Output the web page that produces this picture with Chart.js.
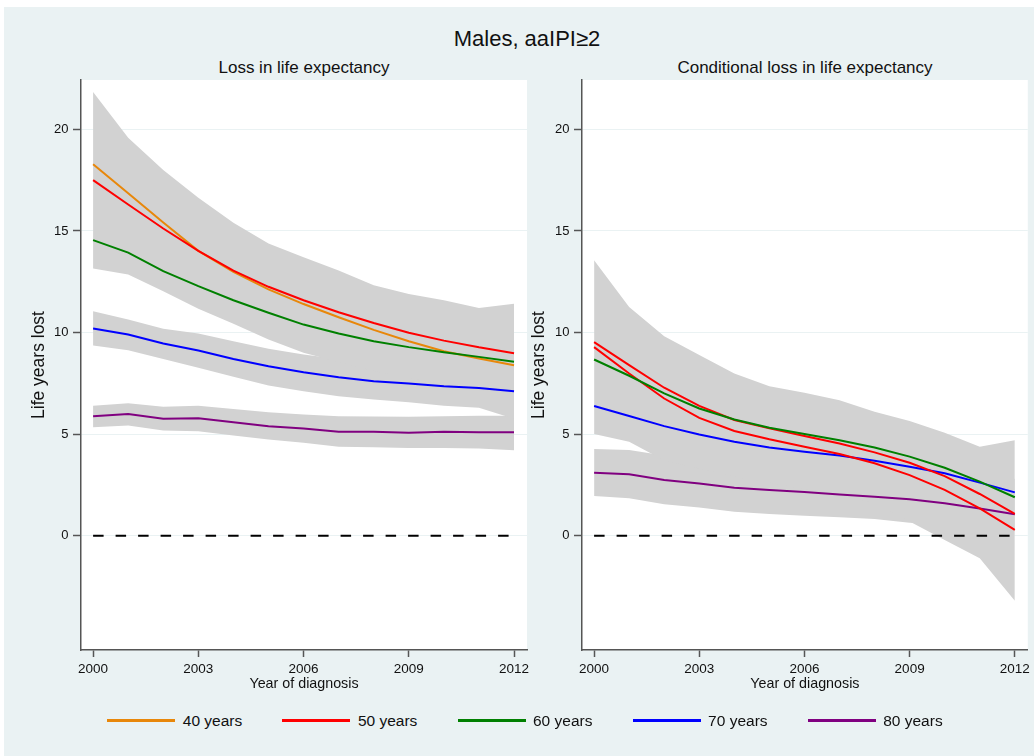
<!DOCTYPE html>
<html>
<head>
<meta charset="utf-8">
<script src="https://cdn.jsdelivr.net/npm/chart.js@4.4.0/dist/chart.umd.min.js"></script>
<style>
html,body{margin:0;padding:0;background:#fff;width:1034px;height:756px;overflow:hidden;font-family:'Liberation Sans',Arial,sans-serif;}
#bg{position:absolute;left:4px;top:7px;width:1030px;height:749px;background:rgb(234,242,243);}
canvas{position:absolute;}
.t{position:absolute;white-space:nowrap;color:#111;line-height:1;transform:translate(-50%,-50%);}
.lt{position:absolute;white-space:nowrap;color:#111;line-height:1;transform:translateY(-50%);}
.ll{position:absolute;height:2.5px;}
</style>
</head>
<body>
<div id="bg"></div>
<div class="t" style="left:527px;top:38.5px;font-size:22px;">Males, aaIPI≥2</div>
<div class="t" style="left:304px;top:67px;font-size:17px;">Loss in life expectancy</div>
<div class="t" style="left:805px;top:67px;font-size:17px;">Conditional loss in life expectancy</div>
<canvas id="c1" width="540" height="650" style="left:0px;top:60px;"></canvas>
<canvas id="c2" width="534" height="650" style="left:500px;top:60px;"></canvas>
<div id="legend"></div>
<script>
// ---------- data ----------
const years = [2000,2001,2002,2003,2004,2005,2006,2007,2008,2009,2010,2011,2012];
const xTicks = [2000,2003,2006,2009,2012];
const yTicks = [0,5,10,15,20];
const seriesLabels = ['40 years','50 years','60 years','70 years','80 years'];
const refValue = 0;

// Left panel: loss in life expectancy
const loss40 = [18.28,16.85,15.42,14.02,12.98,12.12,11.40,10.75,10.13,9.57,9.08,8.72,8.39];
const loss50 = [17.50,16.30,15.12,14.02,13.05,12.25,11.59,11.00,10.47,9.99,9.60,9.27,8.98];
const loss60 = [14.55,13.93,13.02,12.28,11.59,10.97,10.39,9.95,9.57,9.28,9.03,8.80,8.56];
const loss70 = [10.20,9.90,9.46,9.11,8.70,8.34,8.04,7.80,7.60,7.49,7.35,7.27,7.11];
const loss80 = [5.88,5.99,5.76,5.78,5.58,5.38,5.27,5.12,5.11,5.07,5.11,5.09,5.09];
const lossHi40_60 = [21.84,19.59,18.00,16.63,15.40,14.38,13.71,13.05,12.33,11.90,11.59,11.21,11.41];
const lossLo40_60 = [13.15,12.86,12.03,11.17,10.43,9.66,9.00,8.55,8.10,7.75,7.45,7.20,7.00];
const lossHi70 = [11.05,10.64,10.18,9.95,9.57,9.20,8.92,8.70,8.50,8.35,8.20,8.10,8.00];
const lossLo70 = [9.36,9.13,8.70,8.26,7.82,7.39,7.11,6.86,6.70,6.57,6.40,6.29,5.75];
const lossHi80 = [6.40,6.52,6.34,6.40,6.24,6.07,5.96,5.88,5.86,5.85,5.88,5.90,5.90];
const lossLo80 = [5.34,5.42,5.17,5.14,4.93,4.73,4.57,4.37,4.35,4.32,4.32,4.29,4.20];

// Right panel: conditional loss in life expectancy
const cond40 = [9.28,7.98,6.75,5.80,5.15,4.74,4.38,4.02,3.56,2.98,2.25,1.34,0.28];
const cond50 = [9.53,8.39,7.28,6.39,5.69,5.28,4.90,4.54,4.10,3.59,2.93,2.05,1.07];
const cond60 = [8.67,7.87,7.00,6.26,5.72,5.31,5.00,4.70,4.34,3.89,3.34,2.66,1.89];
const cond70 = [6.38,5.89,5.39,4.98,4.62,4.34,4.13,3.95,3.69,3.39,3.07,2.61,2.13];
const cond80 = [3.10,3.02,2.74,2.57,2.36,2.25,2.15,2.03,1.92,1.79,1.59,1.34,1.05];
const condHi40_70 = [13.56,11.26,9.82,8.89,7.98,7.36,7.03,6.67,6.10,5.64,5.07,4.38,4.70];
const condLo40_70 = [5.00,4.62,3.70,3.30,2.90,2.60,2.30,2.00,1.60,0.70,-0.21,-1.11,-3.21];
const condHi80 = [4.26,4.21,3.95,3.80,3.60,3.50,3.40,3.30,3.20,3.10,3.00,2.90,2.80];
const condLo80 = [1.95,1.84,1.54,1.38,1.18,1.07,0.98,0.90,0.82,0.64,0.55,0.45,0.35];

// ---------- styles ----------
const ORANGE='rgb(232,135,10)', RED='rgb(255,0,0)', GREEN='rgb(0,128,0)', BLUE='rgb(0,0,255)', PURPLE='rgb(128,0,128)';
const legendColors = [ORANGE,RED,GREEN,BLUE,PURPLE];
const leftColors = [ORANGE,RED,GREEN,BLUE,PURPLE];
const rightColors = [RED,RED,GREEN,BLUE,PURPLE];
const lineOrder = [3,2,1,4,5];
const BAND = 'rgb(210,210,210)';
const TXT = '#111', AX = '#555';
Chart.defaults.font.family = "'Liberation Sans', Arial, sans-serif";

const pts = arr => years.map((yr,i)=>({x:yr,y:arr[i]}));

const plotBg = {id:'plotBg', beforeDraw(c){
  const {ctx, chartArea:a} = c; ctx.save(); ctx.fillStyle='#fff';
  ctx.fillRect(a.left,a.top,a.right-a.left,a.bottom-a.top); ctx.restore();
}};

function buildPanel(id, lines, colors, bands, rightPad, yWidth){
  const ds = [];
  lines.forEach((arr,i)=>ds.push({label:seriesLabels[i], data:pts(arr), borderColor:colors[i],
    borderWidth:2, pointRadius:0, fill:false, tension:0, order:lineOrder[i]}));
  ds.push({label:'ref', data:years.map(yr=>({x:yr,y:refValue})), borderColor:'#000', borderWidth:2,
    borderDash:[10.5,12], pointRadius:0, fill:false, order:8});
  bands.forEach(([hi,lo])=>{
    ds.push({label:'ci hi', data:pts(hi), borderColor:'rgba(0,0,0,0)', borderWidth:0, pointRadius:0,
      backgroundColor:BAND, fill:'+1', tension:0, order:10});
    ds.push({label:'ci lo', data:pts(lo), borderColor:'rgba(0,0,0,0)', borderWidth:0, pointRadius:0,
      fill:false, tension:0, order:10});
  });
  return new Chart(document.getElementById(id), {
    type:'line',
    data:{datasets:ds},
    plugins:[plotBg],
    options:{
      responsive:false, animation:false, devicePixelRatio:1,
      layout:{padding:{top:20,right:rightPad,bottom:0,left:0}},
      plugins:{legend:{display:false},tooltip:{enabled:false},title:{display:false}},
      scales:{
        x:{type:'linear', min:1999.655, max:2012.37,
          afterFit(s){s.height=60;},
          afterBuildTicks(s){s.ticks=xTicks.map(v=>({value:v}));},
          ticks:{callback:v=>String(v), font:{size:13.5}, color:TXT, padding:4, maxRotation:0, autoSkip:false},
          grid:{display:true, drawOnChartArea:false, drawTicks:true, tickLength:7, tickColor:AX, tickWidth:1.5},
          border:{display:true, color:AX, width:1.5},
          title:{display:true, text:'Year of diagnosis', font:{size:14.3}, color:TXT, padding:{top:0,bottom:17.4}}
        },
        y:{type:'linear', min:-5.63, max:22.43,
          afterFit(s){s.width=yWidth;},
          afterBuildTicks(s){s.ticks=yTicks.map(v=>({value:v}));},
          ticks:{callback:v=>String(v), font:{size:13}, color:TXT, padding:4.5},
          grid:{display:true, drawOnChartArea:true, color:'rgb(234,242,243)', lineWidth:1, drawTicks:true,
            tickLength:8, tickColor:AX, tickWidth:1.5},
          border:{display:true, color:AX, width:1.5},
          title:{display:true, text:'Life years lost', font:{size:17.5}, color:TXT, padding:{top:28.5,bottom:0}}
        }
      }
    }
  });
}

buildPanel('c1', [loss40,loss50,loss60,loss70,loss80], leftColors,
  [[lossHi40_60,lossLo40_60],[lossHi70,lossLo70],[lossHi80,lossLo80]], 13, 81);
buildPanel('c2', [cond40,cond50,cond60,cond70,cond80], rightColors,
  [[condHi40_70,condLo40_70],[condHi80,condLo80]], 6, 82);

// legend
const lg = document.getElementById('legend');
seriesLabels.forEach((lab,i)=>{
  const x0 = 107.3 + i*175.1;
  const l = document.createElement('div'); l.className='ll';
  l.style.left=x0+'px'; l.style.top='719px'; l.style.width='68px'; l.style.background=legendColors[i];
  lg.appendChild(l);
  const t = document.createElement('div'); t.className='lt';
  t.style.left=(x0+75.5)+'px'; t.style.top='721px'; t.style.fontSize='15.5px'; t.textContent=lab;
  lg.appendChild(t);
});
</script>
</body>
</html>
